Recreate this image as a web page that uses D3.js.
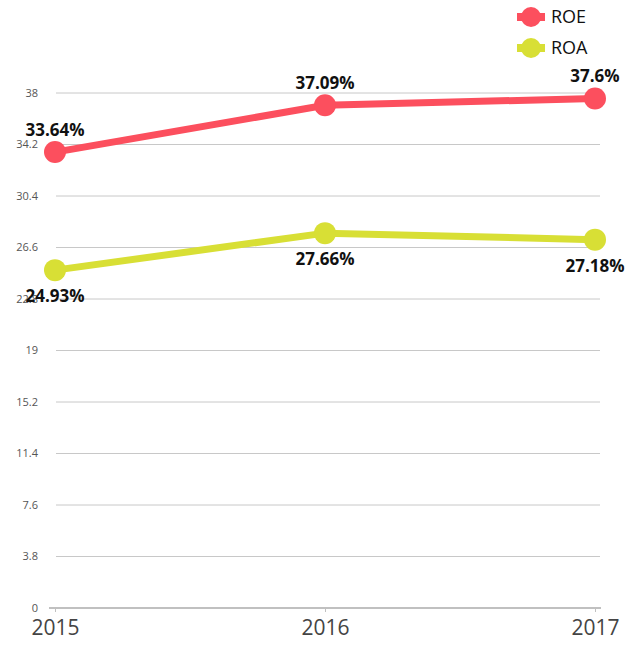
<!DOCTYPE html>
<html><head><meta charset="utf-8">
<script src="https://cdn.jsdelivr.net/npm/d3@7"></script>
<style>body{margin:0;background:#fff;font-family:"Open Sans",sans-serif;}</style>
</head><body>
<svg id="c" width="635" height="650"></svg>
<script>
const years = ["2015","2016","2017"];
const roe = [33.64, 37.09, 37.6];
const roa = [24.93, 27.66, 27.18];
const yTicks = [0, 3.8, 7.6, 11.4, 15.2, 19, 22.8, 26.6, 30.4, 34.2, 38];
const seriesNames = ["ROE", "ROA"];
const colors = ["#fc4f5e", "#d8df35"];

const svg = d3.select("#c");
const x = d3.scalePoint().domain(years).range([55, 595]);
const y = d3.scaleLinear().domain([0, 38]).range([608, 93]);

// grid
svg.append("g").selectAll("line").data(yTicks.filter(d => d > 0)).join("line")
  .attr("x1", 56).attr("x2", 600).attr("y1", d => y(d)).attr("y2", d => y(d))
  .attr("stroke", "#c8c8c8").attr("stroke-width", 1);

// y labels
svg.append("g").selectAll("text").data(yTicks).join("text")
  .attr("x", 38).attr("y", d => y(d)).attr("dy", "0.35em")
  .attr("text-anchor", "end").attr("font-size", 11).attr("fill", "#555")
  .text(d => d);

// x axis
const xa = svg.append("g").attr("transform", "translate(0,608)")
  .call(d3.axisBottom(x).tickSize(4).tickSizeOuter(0));
xa.select(".domain").remove();
xa.insert("line", ":first-child").attr("x1", 49).attr("x2", 601).attr("y1", 0).attr("y2", 0)
  .attr("stroke", "#c0c0c0").attr("stroke-width", 2);
xa.selectAll(".tick line").attr("stroke", "#c0c0c0");
xa.selectAll(".tick text").attr("font-size", 21).attr("fill", "#444")
  .attr("font-family", "Open Sans, sans-serif").attr("y", 12);

const data = [roe, roa];
const line = d3.line().x((d, i) => x(years[i])).y(d => y(d));
data.forEach((vals, s) => {
  svg.append("path").datum(vals).attr("d", line).attr("fill", "none")
    .attr("stroke", colors[s]).attr("stroke-width", 7);
  svg.append("g").selectAll("circle").data(vals).join("circle")
    .attr("cx", (d, i) => x(years[i])).attr("cy", d => y(d)).attr("r", 11)
    .attr("fill", colors[s]);
});

// labels
svg.append("g").selectAll("text").data(roe).join("text")
  .attr("x", (d, i) => x(years[i])).attr("y", d => y(d) - 16)
  .attr("text-anchor", "middle").attr("font-size", 17).attr("font-weight", "bold").attr("fill", "#111")
  .text(d => d + "%");
svg.append("g").selectAll("text").data(roa).join("text")
  .attr("x", (d, i) => x(years[i])).attr("y", d => y(d) + 32)
  .attr("text-anchor", "middle").attr("font-size", 17).attr("font-weight", "bold").attr("fill", "#111")
  .text(d => d + "%");

// legend
seriesNames.forEach((n, i) => {
  const g = svg.append("g").attr("transform", `translate(531,${17 + i * 31})`);
  g.append("line").attr("x1", -14).attr("x2", 14).attr("stroke", colors[i]).attr("stroke-width", 8);
  g.append("circle").attr("r", 10).attr("fill", colors[i]);
  g.append("text").attr("x", 20).attr("dy", "0.36em").attr("font-size", 18).attr("fill", "#111").text(n);
});
</script>
</body></html>
